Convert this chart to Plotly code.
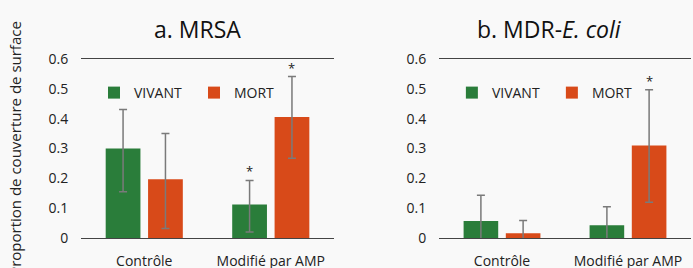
import plotly.graph_objects as go

categories = ["Contrôle", "Modifié par AMP"]
series_names = ["VIVANT", "MORT"]
colors = ["#2A7D3A", "#D84A19"]

# Panel a. MRSA
mrsa_vivant = [0.30, 0.112]
mrsa_mort = [0.197, 0.406]
mrsa_vivant_err_plus = [0.131, 0.081]
mrsa_vivant_err_minus = [0.145, 0.092]
mrsa_mort_err_plus = [0.153, 0.135]
mrsa_mort_err_minus = [0.165, 0.139]
mrsa_signif = [[False, True], [False, True]]

# Panel b. MDR-E. coli
ecoli_vivant = [0.057, 0.043]
ecoli_mort = [0.016, 0.310]
ecoli_vivant_err_plus = [0.086, 0.062]
ecoli_vivant_err_minus = [0.086, 0.062]
ecoli_mort_err_plus = [0.043, 0.187]
ecoli_mort_err_minus = [0.043, 0.190]
ecoli_signif = [[False, False], [False, True]]

yticks = [0, 0.1, 0.2, 0.3, 0.4, 0.5, 0.6]
yticklabels = ["0", "0.1", "0.2", "0.3", "0.4", "0.5", "0.6"]

FONT = "Open Sans"
fig = go.Figure()

panels = [
    ("x", "y", "legend", [mrsa_vivant, mrsa_mort],
     [mrsa_vivant_err_plus, mrsa_mort_err_plus],
     [mrsa_vivant_err_minus, mrsa_mort_err_minus], mrsa_signif),
    ("x2", "y2", "legend2", [ecoli_vivant, ecoli_mort],
     [ecoli_vivant_err_plus, ecoli_mort_err_plus],
     [ecoli_vivant_err_minus, ecoli_mort_err_minus], ecoli_signif),
]

annotations = []
for xa, ya, lg, vals, eplus, eminus, sig in panels:
    for i, name in enumerate(series_names):
        fig.add_trace(go.Bar(
            x=categories, y=vals[i], name=name,
            marker=dict(color=colors[i], line=dict(width=0)),
            error_y=dict(type="data", symmetric=False, array=eplus[i],
                         arrayminus=eminus[i], color="#7a7a7a",
                         thickness=1.5, width=4),
            xaxis=xa, yaxis=ya, legend=lg, offsetgroup=str(i),
        ))
        for j, cat in enumerate(categories):
            if sig[i][j]:
                annotations.append(dict(
                    x=j + (-0.1675 if i == 0 else 0.1675), y=vals[i][j] + eplus[i][j],
                    xref=xa, yref=ya, text="*", showarrow=False,
                    xanchor="center", yanchor="bottom", yshift=-2,
                    font=dict(family=FONT, size=13, color="#222")))

annotations += [
    dict(x=0.5 * 0.4148, y=1.0, xref="paper", yref="paper", yshift=30, xshift=-10,
         xanchor="center", yanchor="middle",
         text="a. MRSA", showarrow=False,
         font=dict(family=FONT, size=23, color="#111")),
    dict(x=0.5869 + 0.5 * (1 - 0.5869), y=1.0, xref="paper", yref="paper", yshift=30,
         xshift=-16, xanchor="center", yanchor="middle",
         text="b. MDR-<i>E. coli</i>", showarrow=False,
         font=dict(family=FONT, size=23, color="#111")),
]

axis_common = dict(showgrid=False, zeroline=False, showline=True, mirror=True,
                   linecolor="#444", linewidth=1, ticks="outside", ticklen=10,
                   tickcolor="rgba(0,0,0,0)", automargin=False,
                   tickfont=dict(family=FONT, size=14, color="#222"))
yaxis_common = dict(range=[0, 0.6], tickvals=yticks, ticktext=yticklabels,
                    showgrid=False, zeroline=False, showline=False,
                    ticks="outside", ticklen=9, tickcolor="rgba(0,0,0,0)",
                    tickfont=dict(family=FONT, size=14, color="#222"))

leg_common = dict(orientation="h", y=0.81, xanchor="left", yanchor="middle",
                  bgcolor="rgba(0,0,0,0)", entrywidth=55, entrywidthmode="pixels",
                  font=dict(family=FONT, size=14, color="#222"), traceorder="normal")

fig.update_layout(
    width=693, height=268,
    margin=dict(l=81, r=2, t=59, b=30),
    paper_bgcolor="#F9F9F9", plot_bgcolor="#F9F9F9",
    barmode="group", bargap=0.33, bargroupgap=0.18,
    font=dict(family=FONT, color="#222"),
    xaxis=dict(domain=[0, 0.4148], **axis_common),
    xaxis2=dict(domain=[0.5869, 1], **axis_common),
    yaxis=dict(anchor="x", automargin="left",
               title=dict(text="Proportion de couverture de surface",
                          font=dict(family=FONT, size=15, color="#222"),
                          standoff=23), **yaxis_common),
    yaxis2=dict(anchor="x2", automargin=False, **yaxis_common),
    legend=dict(x=0.0213, **leg_common),
    legend2=dict(x=0.608, **leg_common),
    annotations=annotations,
    showlegend=True,
)

fig.write_html("out.html", config={"displayModeBar": False},
               post_script="document.body.style.margin='0';document.body.style.background='#F9F9F9';")
